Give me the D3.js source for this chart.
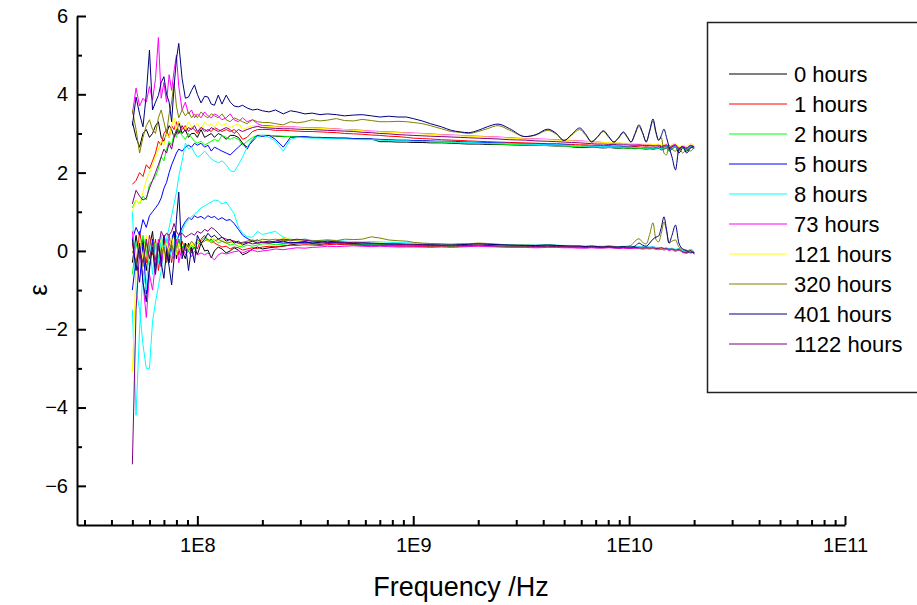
<!DOCTYPE html>
<html>
<head>
<meta charset="utf-8">
<script src="https://cdn.jsdelivr.net/npm/d3@7"></script>
<style>
  body { margin: 0; background: #fff; }
  svg { display: block; }
  text { font-family: "Liberation Sans", Arial, sans-serif; fill: #000; }
</style>
</head>
<body>
<svg id="chart" width="917" height="605"></svg>
<script>
// Measurement frequencies, MHz
const freqMHz = [
  50,52,54,56,58,60,62,64,66,68,70,72,74,76,78,80,82,85,88,91,94,97,100,104,108,112,116,120,125,130,136,142,148,155,162,170,180,190,200,
  215,230,250,270,290,315,340,370,400,440,480,530,580,640,700,770,850,930,
  1000,1100,1200,1350,1500,1650,1800,2000,2200,2470,2800,3300,3700,4200,4600,5000,5400,5900,6300,6700,7150,7600,8050,8500,8950,9400,9800,10200,10650,11100,11550,12000,12450,12900,13300,13700,14100,14500,14900,15300,15800,16400,17000,17700,18500,19200,20000
];

const seriesLabels = ["0 hours","1 hours","2 hours","5 hours","8 hours","73 hours","121 hours","320 hours","401 hours","1122 hours"];

// Real part of permittivity
const re0h = [3.3,2.9,2.65,3.0,3.1,2.9,3.0,3.2,3.3,2.9,2.8,3.0,3.2,3.1,2.9,3.0,3.3,3.0,3.1,2.9,3.0,3.0,2.9,3.1,2.9,2.95,3.0,2.9,3.0,2.95,2.85,2.95,2.95,2.9,2.75,2.65,2.8,2.95,2.95,
  2.95,2.93,2.92,2.92,2.91,2.9,2.9,2.89,2.89,2.88,2.88,2.87,2.87,2.86,2.79,2.79,2.78,2.78,
  2.77,2.77,2.76,2.76,2.75,2.74,2.73,2.73,2.72,2.72,2.71,2.70,2.70,2.69,2.68,2.68,2.66,2.64,2.64,2.65,2.64,2.63,2.64,2.63,2.62,2.63,2.62,2.62,2.61,2.62,2.61,2.60,2.61,2.60,2.61,2.62,2.58,2.60,2.63,2.55,2.60,2.66,2.50,2.62,2.55,2.65,2.62];
const re1h = [1.7,1.8,2.0,1.9,2.2,2.1,2.3,2.5,2.8,2.7,3.0,3.1,2.9,3.2,3.1,3.3,3.0,3.1,3.2,3.05,3.15,3.1,3.0,3.15,3.05,3.1,3.05,3.15,3.1,3.05,3.1,3.05,3.1,3.0,2.85,2.9,3.05,3.1,3.1,
  3.1,3.08,3.08,3.07,3.06,3.05,3.05,3.04,3.03,3.02,3.0,2.99,2.98,2.96,2.95,2.93,2.92,2.9,
  2.88,2.87,2.86,2.84,2.83,2.82,2.81,2.80,2.79,2.78,2.77,2.76,2.75,2.74,2.74,2.73,2.72,2.71,2.71,2.70,2.70,2.69,2.69,2.68,2.68,2.67,2.67,2.66,2.67,2.66,2.65,2.66,2.65,2.65,2.64,2.66,2.63,2.65,2.66,2.60,2.65,2.68,2.58,2.64,2.60,2.67,2.65];
const re2h = [1.1,1.3,1.2,1.4,1.3,1.7,1.8,1.9,2.1,2.4,2.3,2.6,2.8,2.7,3.0,2.9,3.1,2.95,2.85,3.0,2.9,2.8,2.75,2.8,2.7,2.75,2.8,2.85,2.8,2.95,2.9,2.85,2.9,2.85,2.7,2.8,2.9,2.95,2.95,
  2.95,2.94,2.93,2.92,2.92,2.91,2.9,2.9,2.89,2.88,2.88,2.87,2.86,2.85,2.84,2.83,2.82,2.81,
  2.80,2.80,2.79,2.78,2.77,2.76,2.76,2.75,2.74,2.73,2.72,2.71,2.70,2.69,2.69,2.68,2.67,2.66,2.66,2.65,2.65,2.64,2.64,2.64,2.63,2.63,2.63,2.62,2.63,2.62,2.62,2.62,2.61,2.62,2.61,2.63,2.60,2.62,2.65,2.56,2.62,2.66,2.56,2.63,2.58,2.66,2.63];
const re5h = [0.3,0.6,0.4,0.8,0.6,0.9,1.0,1.1,1.2,1.35,1.6,1.75,2.0,2.2,2.35,2.5,2.6,2.55,2.65,2.7,2.65,2.75,2.7,2.75,2.65,2.7,2.55,2.65,2.6,2.55,2.5,2.45,2.55,2.65,2.75,2.6,2.85,2.95,2.92,
  2.95,2.85,2.65,2.9,2.91,2.92,2.9,2.9,2.89,2.88,2.88,2.87,2.86,2.86,2.85,2.84,2.83,2.83,
  2.82,2.82,2.81,2.80,2.80,2.79,2.78,2.77,2.77,2.76,2.75,2.74,2.73,2.72,2.71,2.71,2.70,2.69,2.69,2.68,2.68,2.67,2.67,2.66,2.66,2.66,2.65,2.65,2.65,2.64,2.64,2.64,2.63,2.64,2.62,2.65,2.62,2.64,2.67,2.58,2.64,2.67,2.57,2.65,2.60,2.68,2.64];
const re8h = [1.0,-1.0,-1.5,-2.4,-3.0,-3.0,-1.8,-1.3,-0.9,-0.5,0.0,0.3,0.6,0.9,1.2,1.5,1.9,2.3,2.75,2.6,2.65,2.5,2.4,2.45,2.55,2.45,2.35,2.3,2.25,2.3,2.2,2.05,2.02,2.2,2.4,2.65,2.85,2.92,2.95,
  2.9,2.8,2.55,2.85,2.9,2.89,2.88,2.88,2.87,2.86,2.86,2.85,2.84,2.84,2.83,2.82,2.81,2.81,
  2.80,2.80,2.79,2.79,2.78,2.77,2.77,2.76,2.75,2.75,2.74,2.73,2.72,2.71,2.71,2.70,2.69,2.69,2.68,2.68,2.67,2.67,2.66,2.66,2.66,2.65,2.65,2.65,2.64,2.64,2.64,2.63,2.63,2.64,2.62,2.64,2.61,2.63,2.66,2.57,2.63,2.67,2.58,2.64,2.60,2.67,2.63];
const re73h = [3.5,4.16,3.7,3.9,3.8,4.2,3.85,4.4,5.45,3.9,4.3,3.8,4.5,4.1,4.6,5.0,4.2,3.6,3.8,3.5,3.6,3.4,3.5,3.4,3.55,3.45,3.4,3.5,3.45,3.35,3.4,3.5,3.35,3.3,3.4,3.3,3.35,3.25,3.2,
  3.2,3.18,3.17,3.17,3.16,3.15,3.15,3.14,3.13,3.12,3.1,3.09,3.08,3.06,3.05,3.04,3.03,3.02,
  3.01,3.0,2.99,2.97,2.96,2.95,2.94,2.93,2.92,2.91,2.89,2.87,2.86,2.85,2.84,2.83,2.82,2.81,2.8,2.79,2.78,2.77,2.76,2.75,2.75,2.74,2.74,2.73,2.73,2.72,2.72,2.71,2.71,2.7,2.7,2.71,2.68,2.7,2.72,2.64,2.69,2.72,2.62,2.68,2.64,2.7,2.67];
const re121h = [1.0,1.3,1.2,1.5,1.8,2.0,2.2,2.4,2.6,2.8,2.7,3.0,2.9,3.2,3.4,3.1,3.3,3.2,3.1,3.3,3.15,3.2,3.25,3.1,3.3,3.2,3.25,3.15,3.3,3.2,3.25,3.15,3.2,3.25,3.1,3.15,3.2,3.2,3.15,
  3.18,3.17,3.16,3.16,3.15,3.14,3.14,3.13,3.12,3.11,3.1,3.08,3.07,3.05,3.04,3.03,3.02,3.01,
  3.0,2.99,2.98,2.96,2.95,2.94,2.93,2.92,2.91,2.9,2.88,2.86,2.85,2.84,2.83,2.82,2.81,2.8,2.79,2.79,2.78,2.77,2.77,2.76,2.76,2.75,2.75,2.74,2.74,2.74,2.73,2.73,2.73,2.72,2.72,2.73,2.71,2.72,2.74,2.68,2.73,2.75,2.66,2.7,2.68,2.74,2.7];
const re320h = [3.6,3.1,2.5,2.9,3.2,3.35,3.1,3.0,3.4,3.6,3.3,3.0,3.5,3.8,4.3,3.7,3.4,3.6,3.45,3.55,3.4,3.5,3.4,3.55,3.45,3.4,3.5,3.45,3.4,3.5,3.35,3.3,3.4,3.35,3.3,3.25,3.35,3.3,3.28,
  3.28,3.25,3.22,3.3,3.27,3.3,3.35,3.32,3.34,3.38,3.33,3.32,3.36,3.33,3.3,3.3,3.31,3.3,
  3.28,3.25,3.2,3.12,3.05,3.03,3.0,3.05,3.12,3.2,3.08,2.92,2.96,3.08,2.98,2.82,2.95,3.1,2.95,2.8,2.91,3.05,2.9,2.78,2.88,3.02,2.9,2.78,2.97,3.18,3.0,2.8,3.05,3.32,3.02,2.82,2.9,2.5,2.45,2.7,2.6,2.55,2.65,2.5,2.6,2.55,2.65];
const re401h = [3.2,3.93,3.5,3.17,4.0,5.13,3.6,3.8,3.97,4.3,4.45,4.0,3.8,3.3,4.2,4.9,5.3,4.4,3.9,3.93,4.1,4.24,4.0,3.78,3.95,3.93,3.75,3.72,3.98,3.75,3.98,3.8,3.7,3.68,3.72,3.65,3.6,3.62,3.58,
  3.55,3.6,3.5,3.58,3.55,3.5,3.52,3.48,3.5,3.48,3.45,3.47,3.48,3.45,3.42,3.44,3.42,3.42,
  3.38,3.32,3.25,3.17,3.08,3.04,3.02,3.08,3.17,3.24,3.12,2.92,2.97,3.11,3.0,2.82,2.97,3.14,2.98,2.78,2.92,3.07,2.92,2.78,2.9,3.04,2.92,2.78,3.0,3.22,3.02,2.78,3.07,3.37,3.05,2.83,2.95,3.11,2.9,2.66,2.4,2.07,2.6,2.66,2.5,2.62,2.66];
const re1122h = [1.2,1.55,1.4,1.3,1.35,1.6,1.8,2.0,2.2,2.4,2.6,2.5,2.75,2.6,2.9,3.1,3.0,3.2,3.05,3.15,3.1,3.2,3.05,3.15,3.1,3.05,3.15,3.1,3.05,3.1,3.15,3.1,3.0,3.1,3.05,3.1,3.15,3.18,3.15,
  3.14,3.13,3.12,3.12,3.11,3.1,3.1,3.09,3.08,3.07,3.06,3.05,3.03,3.02,3.0,2.99,2.97,2.96,
  2.95,2.94,2.93,2.92,2.91,2.9,2.89,2.88,2.87,2.86,2.84,2.83,2.81,2.8,2.79,2.78,2.77,2.76,2.75,2.74,2.73,2.73,2.72,2.72,2.71,2.71,2.71,2.7,2.7,2.7,2.69,2.69,2.69,2.68,2.68,2.69,2.66,2.68,2.7,2.62,2.67,2.7,2.6,2.66,2.62,2.69,2.66];

// Imaginary part of permittivity
const im0h = [-0.3,0.4,-0.2,0.3,-0.5,0.1,0.5,-0.3,0.2,-0.4,0.3,0.0,-0.3,0.2,0.5,-0.2,0.3,0.0,-0.2,0.2,0.0,0.1,-0.1,0.2,0.0,0.02,-0.18,0.0,0.1,0.05,-0.05,0.0,0.08,0.02,-0.1,-0.05,0.05,0.1,0.05,
  0.08,0.1,0.12,0.15,0.18,0.2,0.18,0.17,0.19,0.2,0.18,0.17,0.16,0.15,0.16,0.15,0.14,0.13,
  0.13,0.13,0.12,0.12,0.12,0.12,0.13,0.14,0.14,0.13,0.12,0.12,0.12,0.13,0.12,0.11,0.12,0.12,0.11,0.11,0.1,0.1,0.1,0.09,0.1,0.1,0.09,0.09,0.08,0.08,0.1,0.08,0.07,0.08,0.06,0.05,0.07,0.06,0.05,0.06,0.04,0.02,0.05,0.0,-0.02,0.02,-0.05];
const im1h = [0.2,-0.4,0.5,0.0,-0.3,0.4,-0.1,0.3,-0.5,0.0,0.4,-0.2,0.2,-0.3,0.1,0.3,-0.1,0.25,0.0,0.1,-0.05,0.15,0.05,0.3,0.4,0.25,0.3,0.2,0.15,0.1,0.12,0.05,0.1,0.08,0.02,0.05,0.08,0.06,0.1,
  0.12,0.1,0.13,0.15,0.14,0.16,0.15,0.14,0.16,0.17,0.16,0.15,0.14,0.13,0.14,0.13,0.12,0.12,
  0.12,0.11,0.11,0.12,0.11,0.12,0.12,0.13,0.12,0.12,0.11,0.1,0.1,0.11,0.11,0.1,0.1,0.09,0.1,0.1,0.09,0.09,0.1,0.09,0.08,0.09,0.08,0.08,0.09,0.08,0.07,0.08,0.06,0.07,0.06,0.08,0.05,0.04,0.06,0.03,0.04,0.01,0.03,-0.02,-0.05,0.0,-0.08];
const im2h = [-0.6,0.2,-0.2,0.4,0.0,-0.4,0.3,0.1,-0.2,0.3,-0.1,0.2,0.4,0.0,0.2,-0.1,0.3,0.1,0.2,0.0,0.15,0.05,0.2,0.25,0.35,0.3,0.25,0.3,0.2,0.25,0.2,0.15,0.18,0.12,0.1,0.15,0.12,0.15,0.18,
  0.18,0.16,0.17,0.2,0.19,0.2,0.18,0.19,0.21,0.2,0.19,0.18,0.17,0.16,0.17,0.16,0.15,0.15,
  0.14,0.14,0.13,0.13,0.12,0.13,0.13,0.14,0.13,0.12,0.11,0.11,0.1,0.11,0.1,0.1,0.09,0.09,0.08,0.09,0.08,0.08,0.09,0.08,0.07,0.08,0.07,0.07,0.08,0.07,0.05,0.06,0.06,0.07,0.05,0.04,0.06,0.03,0.05,0.02,0.04,0.0,0.03,-0.03,-0.04,0.01,-0.06];
const im5h = [-1.0,-0.2,-0.8,0.2,-1.1,-0.5,0.3,-0.4,0.2,-0.3,0.4,0.1,-0.2,0.3,0.5,0.2,0.4,0.6,0.75,0.85,0.8,0.9,0.85,0.88,0.82,0.9,0.85,0.88,0.8,0.85,0.78,0.8,0.7,0.55,0.4,0.32,0.25,0.28,0.22,
  0.25,0.22,0.2,0.22,0.21,0.22,0.2,0.21,0.22,0.21,0.2,0.19,0.18,0.18,0.19,0.18,0.17,0.17,
  0.16,0.16,0.15,0.15,0.15,0.16,0.16,0.17,0.16,0.15,0.14,0.14,0.13,0.14,0.13,0.13,0.12,0.12,0.11,0.12,0.11,0.11,0.12,0.11,0.1,0.11,0.1,0.1,0.11,0.1,0.09,0.1,0.09,0.1,0.08,0.07,0.09,0.06,0.07,0.05,0.06,0.03,0.05,0.0,-0.02,0.03,-0.04];
const im8h = [-1.5,-4.2,-2.0,-0.5,-1.0,0.3,-0.6,0.2,-0.3,0.4,0.0,0.3,0.1,-0.2,0.2,0.4,0.1,0.5,0.7,0.8,0.87,0.95,1.0,1.1,1.15,1.2,1.25,1.3,1.28,1.2,1.25,1.1,0.95,0.61,0.45,0.36,0.35,0.5,0.42,
  0.46,0.5,0.35,0.3,0.28,0.3,0.27,0.26,0.28,0.27,0.25,0.24,0.23,0.24,0.23,0.22,0.21,0.21,
  0.2,0.19,0.19,0.18,0.17,0.18,0.18,0.19,0.18,0.17,0.16,0.15,0.15,0.16,0.15,0.14,0.14,0.13,0.13,0.13,0.12,0.12,0.13,0.12,0.11,0.12,0.11,0.11,0.12,0.1,0.1,0.11,0.1,0.1,0.09,0.08,0.09,0.07,0.08,0.06,0.07,0.04,0.06,0.01,0.0,0.04,-0.02];
const im73h = [0.5,-0.5,0.2,-0.8,-1.7,-0.6,-1.0,-0.3,0.3,-0.4,0.1,-0.3,0.4,0.0,-0.2,0.3,-0.3,0.1,-0.1,0.0,-0.15,0.0,-0.1,-0.05,-0.1,-0.05,-0.15,-0.23,-0.1,-0.05,-0.08,-0.05,-0.02,0.0,-0.05,0.0,0.02,-0.02,0.0,
  0.02,0.05,0.03,0.06,0.08,0.07,0.09,0.1,0.12,0.11,0.12,0.13,0.12,0.11,0.12,0.11,0.1,0.1,
  0.1,0.1,0.09,0.1,0.09,0.1,0.11,0.12,0.11,0.1,0.09,0.09,0.08,0.09,0.09,0.08,0.08,0.07,0.07,0.08,0.07,0.07,0.08,0.07,0.06,0.07,0.06,0.06,0.07,0.06,0.05,0.06,0.05,0.06,0.04,0.03,0.05,0.02,0.04,0.01,0.03,-0.01,0.02,-0.04,-0.06,0.0,-0.09];
const im121h = [-3.1,-0.5,0.3,-0.2,0.4,-0.3,0.2,-0.4,0.1,0.3,-0.2,0.2,0.0,0.35,0.1,-0.1,0.2,0.0,0.15,0.05,0.2,0.1,0.25,0.2,0.3,0.25,0.35,0.3,0.25,0.3,0.22,0.25,0.2,0.18,0.15,0.2,0.25,0.22,0.28,
  0.3,0.28,0.32,0.3,0.27,0.25,0.24,0.22,0.24,0.25,0.23,0.22,0.2,0.19,0.2,0.19,0.18,0.17,
  0.16,0.16,0.15,0.15,0.14,0.15,0.15,0.16,0.15,0.14,0.13,0.13,0.12,0.13,0.12,0.12,0.11,0.11,0.1,0.11,0.1,0.1,0.11,0.1,0.09,0.1,0.09,0.09,0.1,0.08,0.07,0.08,0.07,0.08,0.06,0.05,0.07,0.04,0.06,0.03,0.05,0.02,0.04,-0.01,-0.03,0.02,-0.05];
const im320h = [0.0,-0.3,0.1,-0.4,0.2,-0.2,0.0,-0.5,0.2,-0.1,0.1,-0.3,0.0,0.2,-0.1,0.1,0.3,0.0,0.2,0.1,0.25,0.15,0.3,0.2,0.25,0.3,0.2,0.25,0.3,0.25,0.2,0.22,0.25,0.2,0.22,0.25,0.28,0.25,0.3,
  0.28,0.3,0.27,0.26,0.28,0.3,0.25,0.27,0.28,0.26,0.3,0.29,0.3,0.36,0.33,0.28,0.26,0.25,
  0.22,0.2,0.19,0.18,0.17,0.18,0.18,0.2,0.19,0.17,0.15,0.15,0.14,0.15,0.14,0.13,0.13,0.12,0.11,0.12,0.11,0.11,0.12,0.11,0.1,0.11,0.12,0.14,0.25,0.31,0.22,0.18,0.42,0.72,0.3,0.23,0.45,0.74,0.5,0.2,0.25,0.28,0.1,0.05,0.02,-0.02,-0.05];
const im401h = [0.3,-0.5,0.2,-0.8,-1.3,-0.4,0.1,-0.6,0.2,-0.3,-0.7,0.0,-0.4,-0.87,-0.2,0.8,1.5,-0.2,0.2,-0.5,0.1,-0.3,0.4,0.2,0.3,0.45,0.35,0.4,0.3,0.35,0.25,0.3,0.2,0.25,0.15,0.2,0.25,0.2,0.22,
  0.2,0.22,0.25,0.2,0.22,0.24,0.2,0.22,0.25,0.23,0.22,0.2,0.21,0.2,0.19,0.18,0.18,0.17,
  0.17,0.16,0.16,0.15,0.15,0.16,0.17,0.18,0.17,0.16,0.15,0.14,0.14,0.15,0.14,0.13,0.12,0.12,0.11,0.12,0.11,0.1,0.11,0.1,0.1,0.11,0.1,0.1,0.12,0.2,0.15,0.12,0.2,0.3,0.35,0.38,0.6,0.87,0.55,0.2,0.4,0.66,0.2,0.05,0.0,-0.05,-0.03];
const im1122h = [-5.45,-1.5,0.0,-0.3,0.3,-0.2,0.2,-0.4,0.1,0.5,0.35,0.45,0.4,0.5,0.7,0.5,0.4,0.45,0.35,0.4,0.45,0.4,0.5,0.45,0.55,0.5,0.6,0.55,0.45,0.35,0.3,0.28,0.25,0.2,0.2,0.22,0.18,0.2,0.22,
  0.22,0.25,0.3,0.28,0.3,0.27,0.25,0.24,0.22,0.23,0.22,0.21,0.2,0.19,0.18,0.18,0.17,0.16,
  0.15,0.15,0.14,0.14,0.13,0.14,0.14,0.15,0.14,0.13,0.12,0.12,0.11,0.12,0.11,0.11,0.1,0.1,0.09,0.1,0.09,0.09,0.1,0.09,0.08,0.09,0.08,0.08,0.09,0.08,0.07,0.08,0.07,0.08,0.06,0.06,0.08,0.05,0.06,0.04,0.05,0.02,0.04,-0.02,-0.04,0.01,-0.06];

const xMajorTicks = [1e8, 1e9, 1e10, 1e11];
const xTickLabels = ["1E8", "1E9", "1E10", "1E11"];
const yMajorTicks = [-6, -4, -2, 0, 2, 4, 6];
const yMinorTicks = [-5, -3, -1, 1, 3, 5];

// Line colours, one per ageing time
const seriesColors = ["#000000","#ff0000","#00ff00","#0000ff","#00ffff","#ff00ff","#ffff00","#808000","#000080","#800080"];

const realParts = [re0h, re1h, re2h, re5h, re8h, re73h, re121h, re320h, re401h, re1122h];
const imagParts = [im0h, im1h, im2h, im5h, im8h, im73h, im121h, im320h, im401h, im1122h];

const bad = [];
realParts.forEach((a, i) => { if (a.length !== freqMHz.length) bad.push("re " + seriesLabels[i] + " " + a.length); });
imagParts.forEach((a, i) => { if (a.length !== freqMHz.length) bad.push("im " + seriesLabels[i] + " " + a.length); });
if (bad.length) throw new Error("length mismatch (" + freqMHz.length + "): " + bad.join("; "));

const svg = d3.select("#chart");

const x = d3.scaleLog().domain([2.77e7, 1e11]).range([77, 845]);
const y = d3.scaleLinear().domain([-7, 6]).range([525, 16]);

// Curves: jagged below 1 GHz, smooth resonances above
const lineLow = d3.line().x(d => x(d[0] * 1e6)).y(d => y(d[1]));
const lineHigh = d3.line().x(d => x(d[0] * 1e6)).y(d => y(d[1])).curve(d3.curveMonotoneX);

const curves = svg.append("g").attr("fill", "none").attr("stroke-width", 1);
seriesLabels.forEach((name, i) => {
  [realParts[i], imagParts[i]].forEach(vals => {
    const pts = freqMHz.map((f, k) => [f, vals[k]]);
    const low = pts.filter(p => p[0] <= 1000);
    const high = pts.filter(p => p[0] >= 1000);
    curves.append("path").attr("stroke", seriesColors[i]).attr("d", lineLow(low));
    curves.append("path").attr("stroke", seriesColors[i]).attr("d", lineHigh(high));
  });
});

// X axis (ticks point into the plot)
const xMinor = [];
[1e7, 1e8, 1e9, 1e10].forEach(dec => { for (let m = 2; m <= 9; m++) { const v = m * dec; if (v >= 2.77e7 && v < 1e11) xMinor.push(v); } });

const xAxisG = svg.append("g").attr("transform", "translate(0,525)");
xAxisG.call(d3.axisBottom(x).tickValues(xMajorTicks).tickSizeInner(-9).tickSizeOuter(0).tickPadding(13)
  .tickFormat((d, i) => xTickLabels[i]));
xAxisG.append("g").call(d3.axisBottom(x).tickValues(xMinor).tickSizeInner(-5).tickSizeOuter(0).tickFormat(""))
  .select(".domain").remove();

// Y axis
const yAxisG = svg.append("g").attr("transform", "translate(77,0)");
yAxisG.call(d3.axisLeft(y).tickValues(yMajorTicks).tickSizeInner(-9).tickSizeOuter(0).tickPadding(9).tickFormat(d3.format("d")));
yAxisG.append("g").call(d3.axisLeft(y).tickValues(yMinorTicks).tickSizeInner(-5).tickSizeOuter(0).tickFormat(""))
  .select(".domain").remove();

svg.selectAll(".domain").attr("stroke", "#000").attr("stroke-width", 2);
svg.selectAll(".tick line").attr("stroke", "#000").attr("stroke-width", 2);
svg.selectAll(".tick text").attr("font-size", 20).attr("font-family", "'Liberation Sans', Arial, sans-serif").attr("fill", "#000");

// Axis titles
svg.append("text")
  .attr("x", 461).attr("y", 596)
  .attr("text-anchor", "middle")
  .attr("font-size", 27)
  .text("Frequency /Hz");

svg.append("text")
  .attr("transform", "translate(38,290) rotate(-90)")
  .attr("text-anchor", "middle")
  .attr("dominant-baseline", "central")
  .attr("font-size", 26)
  .text("ε");

// Legend
const legend = svg.append("g");
legend.append("rect")
  .attr("x", 707.5).attr("y", 22.5).attr("width", 230).attr("height", 370)
  .attr("fill", "#fff").attr("stroke", "#222").attr("stroke-width", 1.5);

seriesLabels.forEach((name, i) => {
  const ly = 74 + i * 30;
  legend.append("line")
    .attr("x1", 729).attr("x2", 787).attr("y1", ly).attr("y2", ly)
    .attr("stroke", seriesColors[i]).attr("stroke-width", 1);
  legend.append("text")
    .attr("x", 794).attr("y", ly + 7.5)
    .attr("font-size", 22)
    .text(name);
});
</script>
</body>
</html>
